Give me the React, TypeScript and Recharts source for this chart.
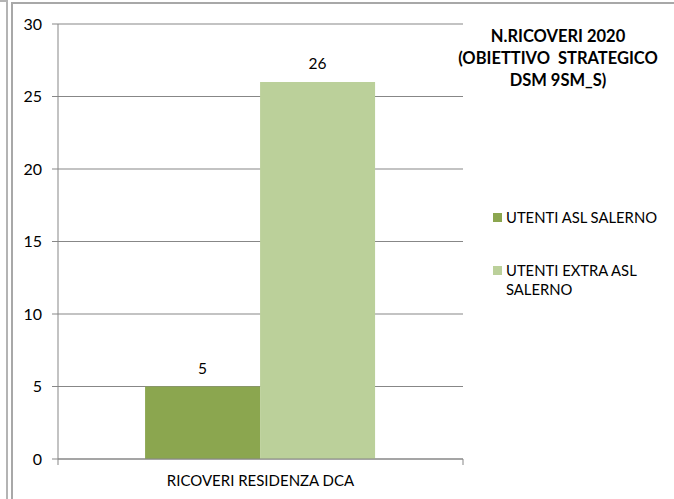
import React from "react";
import { BarChart, Bar, XAxis, YAxis, CartesianGrid, LabelList } from "recharts";

const categories = ["RICOVERI RESIDENZA DCA"];
const utentiAsl = [5];
const utentiExtra = [26];
const yTicks = [0, 5, 10, 15, 20, 25, 30];
const titleLines = ["N.RICOVERI 2020", "(OBIETTIVO\u00a0 STRATEGICO", "DSM 9SM_S)"];
const seriesNames = ["UTENTI ASL SALERNO", "UTENTI EXTRA ASL SALERNO"];

const data = categories.map((c, i) => ({ name: c, asl: utentiAsl[i], extra: utentiExtra[i] }));

const FONT = "Lato, 'Open Sans', sans-serif";
const DARK = "#8ba64f";
const LIGHT = "#bbd09a";
const AXIS = "#878787";

const XTick = (props: any) => {
  const { x, y, payload, width } = props;
  const half = width / 2;
  return (
    <g>
      <line x1={x - half} y1={y - 8} x2={x - half} y2={y - 2} stroke={AXIS} />
      <line x1={x + half} y1={y - 8} x2={x + half} y2={y - 2} stroke={AXIS} />
      <text x={x} y={y + 19} textAnchor="middle" fontSize={15} fill="#000" fontFamily={FONT}>
        {payload.value}
      </text>
    </g>
  );
};

export default function App() {
  return (
    <div style={{ position: "absolute", left: 0, top: 0, width: 674, height: 499, background: "#fff", overflow: "hidden" }}>
      <div style={{ position: "absolute", left: 0, top: 0, width: 6, height: 499, borderTop: "2px solid #b4b4b4", borderRight: "2px solid #b4b4b4" }} />
      <div style={{ position: "absolute", left: 11, top: 2, width: 680, height: 520, borderTop: "2px solid #a8a8a8", borderLeft: "2px solid #a8a8a8" }} />
      <div style={{ position: "absolute", left: 0, top: 0 }}>
        <BarChart
          width={674}
          height={499}
          data={data}
          margin={{ top: 24, right: 211, bottom: 0, left: 12 }}
          barCategoryGap="21.5%"
          barGap={0}
        >
          <CartesianGrid vertical={false} stroke={AXIS} strokeWidth={1} />
          <YAxis
            type="number"
            domain={[0, 30]}
            ticks={yTicks}
            width={46}
            axisLine={{ stroke: AXIS }}
            tickLine={{ stroke: AXIS }}
            tickSize={6}
            tickMargin={10}
            tick={{ fontSize: 16, fill: "#000", fontFamily: FONT }}
          />
          <XAxis
            dataKey="name"
            height={40}
            axisLine={{ stroke: AXIS }}
            tickLine={false}
            tick={<XTick />}
            interval={0}
          />
          <Bar dataKey="asl" name={seriesNames[0]} fill={DARK} isAnimationActive={false}>
            <LabelList dataKey="asl" position="top" offset={13} fill="#000" fontSize={15.5} fontFamily={FONT} />
          </Bar>
          <Bar dataKey="extra" name={seriesNames[1]} fill={LIGHT} isAnimationActive={false}>
            <LabelList dataKey="extra" position="top" offset={13} fill="#000" fontSize={15.5} fontFamily={FONT} />
          </Bar>
        </BarChart>
      </div>
      <div
        style={{
          position: "absolute",
          left: 438,
          top: 25,
          width: 240,
          textAlign: "center",
          fontFamily: FONT,
          fontWeight: 700,
          fontSize: 16.5,
          lineHeight: "22px",
          color: "#000",
          whiteSpace: "pre",
        }}
      >
        {titleLines.map((t, i) => (
          <div key={i}>{t}</div>
        ))}
      </div>
      <div style={{ fontFamily: FONT, fontSize: 14.8, color: "#000" }}>
        <div style={{ position: "absolute", left: 493, top: 208, display: "flex" }}>
          <div style={{ width: 9, height: 9, background: DARK, marginTop: 5, marginRight: 4 }} />
          <div style={{ lineHeight: "19px", whiteSpace: "nowrap" }}>{seriesNames[0]}</div>
        </div>
        <div style={{ position: "absolute", left: 493, top: 261, display: "flex" }}>
          <div style={{ width: 9, height: 9, background: LIGHT, marginTop: 5, marginRight: 4 }} />
          <div style={{ lineHeight: "19px", width: 150 }}>
            UTENTI EXTRA ASL
            <br />
            SALERNO
          </div>
        </div>
      </div>
    </div>
  );
}
